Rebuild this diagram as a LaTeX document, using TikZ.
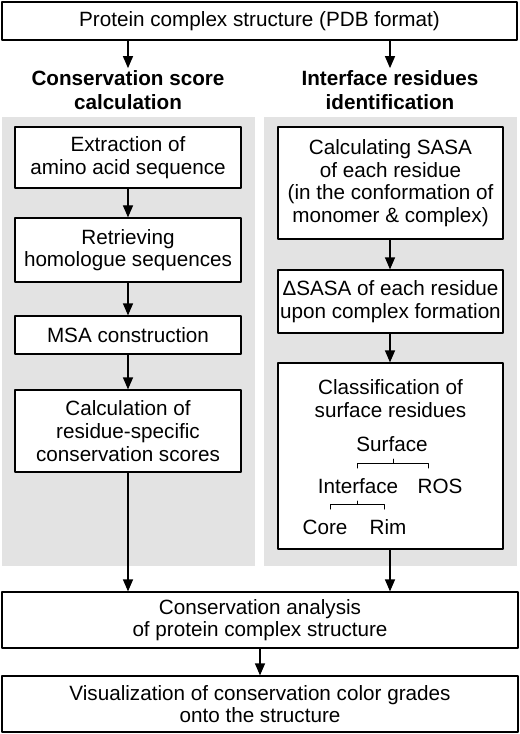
\documentclass[tikz,border=0pt]{standalone}
\usepackage{fontspec}
\setmainfont{Liberation Sans}
\usepackage{tikz}
\usetikzlibrary{positioning}
\usetikzlibrary{arrows.meta}

\begin{document}
\begin{tikzpicture}[line cap=round,line join=round,>={Triangle[length=9pt,width=7.5pt]},x=0.75pt,y=-0.75pt,
box/.style={draw,line width=0.9pt,fill=white,align=center,inner sep=0pt,font=\fontsize{15.5}{17}\selectfont},
txt/.style={align=center,inner sep=1pt,font=\fontsize{15.5}{17}\selectfont},
head/.style={align=center,inner sep=1.5pt,font=\fontsize{15.5}{18}\selectfont\bfseries},
arr/.style={->,line width=0.9pt}]
\useasboundingbox (0,0) rectangle (520,734);
\fill [gray!22] (2,117) rectangle (255,566);
\fill [gray!22] (264,117) rectangle (517,566);
\node [box,minimum width=386.25pt,minimum height=28.5pt] (pdb) at (259.5,21) {Protein complex structure (PDB format)};
\node [head] (cons) at (128,90) {Conservation score\\calculation};
\node [head] (intf) at (390,90) {Interface residues\\identification};
\node [box,minimum width=169.5pt,minimum height=45.75pt] (extr) at (128,157.5) {Extraction of\\amino acid sequence};
\node [box,minimum width=169.5pt,minimum height=48pt] (homo) at (128,250) {Retrieving\\homologue sequences};
\node [box,minimum width=169.5pt,minimum height=28.5pt] (msa) at (128,335) {MSA construction};
\node [box,minimum width=169.5pt,minimum height=61.5pt] (score) at (128,431) {Calculation of\\residue-specific\\conservation scores};
\node [box,minimum width=168.75pt,minimum height=84pt] (sasa) at (390.5,183) {Calculating SASA\\of each residue\\(in the conformation of\\monomer \& complex)};
\node [box,minimum width=168.75pt,minimum height=47.25pt] (dsasa) at (390.5,301.5) {ΔSASA of each residue\\upon complex formation};
\node [box,minimum width=168.75pt,minimum height=139.5pt] (class) at (390.5,456) {};
\node [txt] (title) at (390.5,398.5) {Classification of\\surface residues};
\node [txt] (surf) at (392,444) {Surface};
\node [txt] (iface) at (358,486) {Interface};
\node [txt] (ros) at (440,486) {ROS};
\node [txt] (core) at (325,527) {Core};
\node [txt] (rim) at (388,527) {Rim};
\draw [line width=0.75pt] (357,468) |- (428,463) -- (428,468);
\draw [line width=0.75pt] (393,459) -- (393,463);
\draw [line width=0.75pt] (330,509) |- (384,504) -- (384,509);
\draw [line width=0.75pt] (357,501) -- (357,504);
\node [box,minimum width=387pt,minimum height=42pt] (anal) at (260,620) {Conservation analysis\\of protein complex structure};
\node [box,minimum width=387pt,minimum height=42pt] (vis) at (260,704) {Visualization of conservation color grades\\onto the structure};
\draw [arr] (pdb.south -| cons) -- (cons.north);
\draw [arr] (pdb.south -| intf) -- (intf.north);
\draw [arr] (extr) -- (homo);
\draw [arr] (homo) -- (msa);
\draw [arr] (msa) -- (score);
\draw [arr] (score.south) -- (score.south |- anal.north);
\draw [arr] (sasa.south -| intf) -- (dsasa.north -| intf);
\draw [arr] (dsasa.south -| intf) -- (class.north -| intf);
\draw [arr] (class.south -| intf) -- (anal.north -| intf);
\draw [arr] (anal) -- (vis);
\end{tikzpicture}
\end{document}
